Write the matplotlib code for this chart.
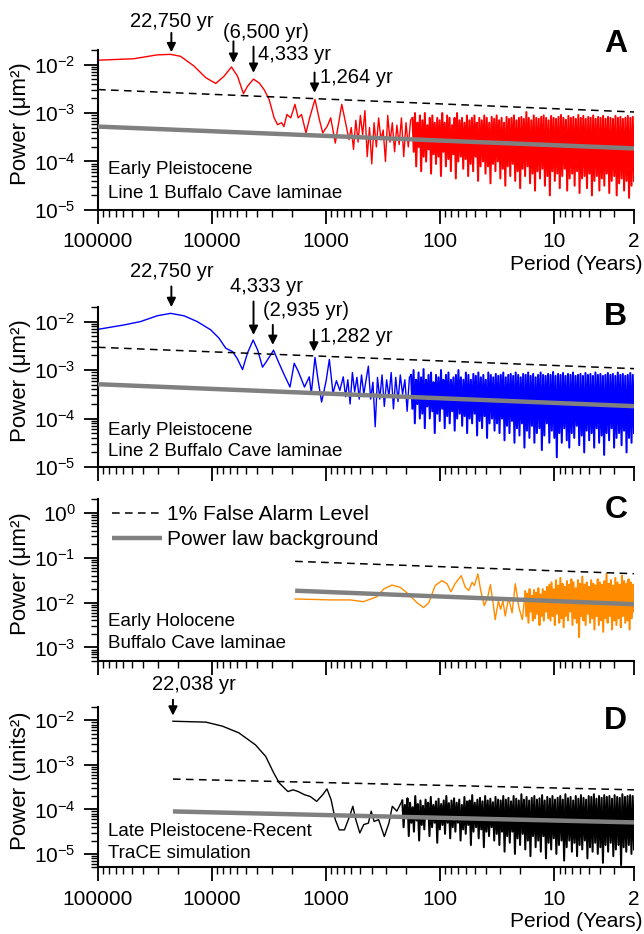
import numpy as np
import matplotlib
matplotlib.use('Agg')
import matplotlib.pyplot as plt
from matplotlib.ticker import LogLocator, NullFormatter, FixedLocator, FixedFormatter

plt.rcParams['font.family'] = ['Liberation Sans', 'DejaVu Sans']
plt.rcParams['mathtext.default'] = 'regular'
plt.rcParams['axes.unicode_minus'] = False

# x axis ticks (period, years)
x_ticks = [100000, 10000, 1000, 100, 10, 2]
x_tick_labels = ['100000', '10000', '1000', '100', '10', '2']

# ---------------- panel A (red) : log10 values ----------------
a_log_period = [5.0, 4.687, 4.481, 4.364, 4.276, 4.159, 4.056, 3.968, 3.895, 3.830,
                3.777, 3.725, 3.690, 3.637, 3.587, 3.543, 3.500, 3.456, 3.426, 3.390,
                3.370, 3.344, 3.310, 3.274, 3.245, 3.216, 3.177, 3.140, 3.098, 3.060,
                3.030, 2.990, 2.960, 2.920, 2.863, 2.830, 2.800,
                2.78, 2.76, 2.74, 2.72, 2.70, 2.68, 2.66, 2.64, 2.62, 2.60,
                2.58, 2.56, 2.54, 2.52, 2.50, 2.48, 2.46, 2.44, 2.42, 2.40,
                2.38, 2.36, 2.34, 2.32, 2.30, 2.28, 2.26]
a_log_power = [-1.91, -1.88, -1.80, -1.79, -1.83, -2.03, -2.27, -2.39, -2.24, -2.05,
               -2.24, -2.60, -2.45, -2.30, -2.38, -2.52, -2.72, -3.10, -3.24, -3.20,
               -3.28, -3.03, -3.10, -2.82, -3.10, -3.03, -3.41, -3.06, -2.72, -3.13,
               -3.41, -3.27, -3.10, -3.62, -2.82, -3.20, -3.55,
               -3.30, -3.75, -3.15, -3.60, -3.05, -3.45, -2.95, -3.90, -3.30, -4.05,
               -3.20, -3.70, -3.10, -3.55, -3.35, -4.00, -3.05, -3.60, -3.20, -3.80,
               -3.25, -3.65, -3.10, -3.90, -3.20, -3.70, -3.15]
# dense tail (period 175 -> 2): upper and lower swings of the spectrum
a_tail_range = [175, 2]
a_hi = [-3.1, -3.0, -3.2, -3.05, -3.15, -3.0, -3.25, -3.1, -3.05, -3.2,
        -3.1, -3.15, -3.0, -3.2, -3.05, -3.1, -3.25, -3.1, -3.0, -3.15,
        -3.1, -3.2, -3.05, -3.15, -3.1, -3.05, -3.2, -3.1, -3.15, -3.05,
        -3.1, -3.2, -3.08, -3.12, -3.05, -3.15, -3.1, -3.2, -3.08, -3.12,
        -3.1, -3.05, -3.15, -3.1, -3.08, -3.12, -2.98, -3.1, -3.15, -3.05,
        -3.1, -3.12, -3.08, -3.05, -3.1, -3.15, -3.06, -3.1, -3.12, -3.08,
        -3.04, -3.1, -3.14, -3.06, -3.1, -3.08, -3.12, -3.04, -3.1, -3.06,
        -3.12, -3.08, -3.1, -3.05, -3.12, -3.08, -3.1, -3.06, -3.12, -3.08,
        -3.1, -3.12, -3.06, -3.1, -3.08, -3.12, -3.1, -3.06, -3.1, -3.08]
a_lo = [-3.8, -4.1, -3.7, -4.2, -3.9, -4.0, -3.75, -4.25, -3.85, -4.05,
        -3.9, -4.3, -3.8, -4.1, -3.95, -4.2, -3.85, -4.35, -4.0, -3.9,
        -4.15, -3.95, -4.3, -4.05, -4.2, -3.9, -4.4, -4.1, -4.0, -4.25,
        -4.1, -4.45, -4.05, -4.2, -4.0, -4.35, -4.15, -4.5, -4.1, -4.3,
        -4.05, -4.4, -4.2, -4.55, -4.15, -4.3, -4.1, -4.45, -4.25, -4.6,
        -4.2, -4.35, -4.15, -4.5, -4.3, -4.7, -4.2, -4.4, -4.25, -4.55,
        -4.3, -4.15, -4.6, -4.35, -4.25, -4.5, -4.2, -4.65, -4.35, -4.3,
        -4.55, -4.25, -4.7, -4.4, -4.3, -4.6, -4.35, -4.5, -4.25, -4.65,
        -4.4, -4.3, -4.7, -4.45, -4.35, -4.6, -4.4, -4.75, -4.5, -4.4]
a_line_period = [100000, 2]
a_fal = [3.05e-3, 1.05e-3]
a_bg = [5.25e-4, 1.86e-4]

# ---------------- panel B (blue) ----------------
b_log_period = [5.0, 4.775, 4.628, 4.481, 4.364, 4.247, 4.130, 4.012, 3.940, 3.880,
                3.820, 3.780, 3.733, 3.690, 3.640, 3.600, 3.558, 3.514, 3.461, 3.426,
                3.373, 3.317, 3.280, 3.250, 3.220, 3.190, 3.148, 3.130, 3.098, 3.070,
                3.040, 3.000, 2.972, 2.940, 2.910, 2.880, 2.850,
                2.83, 2.81, 2.79, 2.77, 2.75, 2.73, 2.71, 2.69, 2.67, 2.65,
                2.63, 2.61, 2.59, 2.57, 2.55, 2.53, 2.51, 2.49, 2.47, 2.45,
                2.43, 2.41, 2.39, 2.37, 2.35, 2.33, 2.31, 2.29, 2.27]
b_log_power = [-2.16, -2.07, -2.00, -1.88, -1.83, -1.88, -2.00, -2.17, -2.34, -2.55,
               -2.62, -2.76, -2.99, -2.65, -2.38, -2.59, -2.94, -2.79, -2.59, -2.79,
               -3.07, -3.35, -2.86, -3.00, -3.17, -3.35, -3.14, -3.48, -2.74, -3.22,
               -3.66, -3.22, -2.78, -3.48, -3.22, -3.42, -3.14,
               -3.55, -3.20, -3.70, -3.05, -3.45, -3.15, -3.60, -3.10, -3.50, -3.20,
               -2.92, -3.60, -3.25, -4.17, -3.15, -3.60, -3.10, -3.75, -3.20, -3.55,
               -3.05, -3.80, -3.15, -3.65, -3.10, -3.50, -3.20, -3.85, -3.15]
b_tail_range = [180, 2]
b_hi = [-3.1, -3.0, -3.2, -3.05, -3.15, -2.98, -3.2, -3.1, -3.05, -3.25,
        -3.1, -3.15, -3.0, -3.2, -3.1, -3.05, -3.2, -3.15, -3.1, -3.0,
        -3.15, -3.2, -3.05, -3.1, -3.2, -3.08, -3.12, -3.05, -3.15, -3.1,
        -3.2, -3.05, -3.1, -3.15, -3.08, -3.12, -3.1, -3.05, -3.15, -3.1,
        -3.08, -3.12, -3.05, -3.1, -3.15, -3.08, -3.1, -3.05, -3.12, -3.08,
        -3.15, -3.1, -3.05, -3.1, -3.12, -3.08, -3.1, -3.04, -3.12, -3.08,
        -3.1, -3.06, -3.12, -3.08, -3.1, -3.05, -3.12, -3.1, -3.08, -3.12,
        -3.06, -3.1, -3.08, -3.12, -3.05, -3.1, -3.08, -3.12, -3.1, -3.06,
        -3.1, -3.08, -3.12, -3.05, -3.1, -3.08, -3.12, -3.1, -3.06, -3.1]
b_lo = [-3.8, -4.1, -3.7, -4.0, -3.9, -4.2, -3.75, -4.0, -3.85, -4.3,
        -3.9, -4.05, -3.8, -4.2, -3.95, -4.1, -3.85, -4.25, -4.0, -3.9,
        -4.15, -3.95, -4.3, -4.0, -4.1, -3.9, -4.35, -4.05, -4.2, -3.95,
        -4.4, -4.1, -4.0, -4.25, -4.1, -4.3, -4.0, -4.45, -4.15, -4.3,
        -4.05, -4.5, -4.2, -4.35, -4.1, -4.6, -4.25, -4.4, -4.15, -4.5,
        -4.3, -4.2, -4.65, -4.35, -4.1, -4.5, -4.25, -4.4, -4.8, -4.3,
        -4.5, -4.2, -4.45, -4.6, -4.3, -4.4, -4.15, -4.55, -4.35, -4.7,
        -4.25, -4.45, -4.3, -4.6, -4.2, -4.5, -4.35, -4.75, -4.3, -4.45,
        -4.2, -4.6, -4.4, -4.3, -4.55, -4.25, -4.7, -4.4, -4.5, -4.3]
b_line_period = [100000, 2]
b_fal = [2.95e-3, 1.07e-3]
b_bg = [5.1e-4, 1.8e-4]

# ---------------- panel C (orange) ----------------
c_log_period = [3.272, 3.10, 2.965, 2.79, 2.673, 2.61, 2.555, 2.497, 2.424, 2.35,
                2.278, 2.205, 2.146, 2.10, 2.044, 1.985, 1.94, 1.906, 1.87, 1.816,
                1.78, 1.75, 1.72, 1.70, 1.67, 1.645, 1.614, 1.585, 1.56, 1.535,
                1.518, 1.49, 1.47, 1.45, 1.43, 1.40, 1.37, 1.342, 1.31, 1.28]
c_log_power = [-1.92, -1.93, -1.94, -1.94, -1.98, -1.92, -1.87, -1.70, -1.61, -1.66,
               -1.81, -2.00, -2.11, -2.00, -1.62, -1.51, -1.58, -1.76, -1.58, -1.40,
               -1.66, -1.73, -1.55, -1.62, -1.36, -1.73, -2.07, -1.89, -1.60, -2.04,
               -2.38, -1.96, -2.15, -1.96, -2.30, -1.89, -2.23, -1.58, -2.11, -2.38]
c_tail_range = [18, 2]
c_hi = [-1.75, -1.8, -1.7, -1.85, -1.72, -1.78, -1.68, -1.82, -1.7, -1.75,
        -1.65, -1.6, -1.55, -1.7, -1.5, -1.62, -1.45, -1.58, -1.65, -1.52,
        -1.6, -1.48, -1.55, -1.68, -1.5, -1.58, -1.42, -1.6, -1.55, -1.65,
        -1.5, -1.58, -1.62, -1.48, -1.55, -1.6, -1.52, -1.36, -1.58, -1.5,
        -1.62, -1.45, -1.55, -1.6, -1.4, -1.52, -1.58, -1.48, -1.55, -1.6]
c_lo = [-2.3, -2.45, -2.2, -2.4, -2.35, -2.25, -2.5, -2.3, -2.4, -2.2,
        -2.35, -2.4, -2.3, -2.5, -2.25, -2.45, -2.35, -2.55, -2.3, -2.4,
        -2.2, -2.5, -2.35, -2.45, -2.77, -2.3, -2.4, -2.5, -2.25, -2.45,
        -2.35, -2.6, -2.3, -2.5, -2.4, -2.65, -2.35, -2.45, -2.3, -2.6,
        -2.4, -2.5, -2.35, -2.55, -2.3, -2.45, -2.4, -2.6, -2.35, -2.2]
c_line_period = [1870, 2]
c_fal = [0.083, 0.044]
c_bg = [0.0184, 0.0092]

# ---------------- panel D (black) ----------------
d_log_period = [4.343, 4.054, 3.91, 3.766, 3.62, 3.53, 3.46, 3.41, 3.335, 3.29,
                3.245, 3.19, 3.14, 3.083, 3.03, 2.993, 2.957, 2.92, 2.885, 2.84,
                2.795, 2.766, 2.74, 2.705, 2.67, 2.63, 2.605, 2.58, 2.54, 2.49,
                2.45, 2.42, 2.38, 2.345]
d_log_power = [-2.02, -2.04, -2.13, -2.28, -2.55, -2.81, -3.18, -3.41, -3.60, -3.56,
               -3.60, -3.67, -3.71, -3.82, -3.67, -3.54, -3.78, -4.23, -4.46, -4.46,
               -4.16, -3.93, -4.23, -4.53, -4.34, -4.31, -4.04, -4.27, -4.23, -4.61,
               -4.31, -3.93, -4.04, -3.86]
d_tail_range = [215, 2]
d_hi = [-3.8, -3.9, -3.75, -3.85, -3.95, -3.7, -3.88, -3.8, -3.92, -3.78,
        -3.85, -3.72, -3.9, -3.82, -3.76, -3.88, -3.8, -3.7, -3.86, -3.8,
        -3.75, -3.85, -3.78, -3.9, -3.72, -3.82, -3.8, -3.68, -3.85, -3.78,
        -3.74, -3.82, -3.7, -3.8, -3.76, -3.84, -3.72, -3.78, -3.8, -3.7,
        -3.78, -3.74, -3.82, -3.7, -3.76, -3.8, -3.66, -3.78, -3.72, -3.8,
        -3.74, -3.7, -3.78, -3.75, -3.68, -3.8, -3.72, -3.76, -3.7, -3.78,
        -3.74, -3.7, -3.78, -3.66, -3.75, -3.72, -3.8, -3.7, -3.76, -3.68,
        -3.74, -3.78, -3.7, -3.72, -3.66, -3.76, -3.7, -3.74, -3.68, -3.72,
        -3.7, -3.76, -3.68, -3.72, -3.74, -3.66, -3.72, -3.7, -3.68, -3.7]
d_lo = [-4.4, -4.2, -4.6, -4.3, -4.5, -4.25, -4.7, -4.35, -4.45, -4.2,
        -4.6, -4.4, -4.3, -4.75, -4.45, -4.35, -4.55, -4.3, -4.65, -4.4,
        -4.5, -4.3, -4.7, -4.45, -4.55, -4.35, -4.8, -4.5, -4.4, -4.65,
        -4.45, -4.85, -4.5, -4.6, -4.4, -4.7, -4.55, -4.8, -4.5, -4.95,
        -4.6, -4.75, -4.5, -5.0, -4.65, -4.8, -4.55, -4.9, -4.7, -5.05,
        -4.6, -4.85, -4.7, -4.95, -4.6, -5.1, -4.75, -4.9, -4.65, -5.0,
        -4.8, -4.7, -5.15, -4.85, -4.7, -4.95, -4.75, -5.05, -4.8, -4.9,
        -4.7, -5.1, -4.85, -4.95, -4.75, -5.0, -4.85, -5.2, -4.8, -4.95,
        -4.75, -5.05, -4.9, -4.8, -5.25, -4.85, -4.95, -4.8, -5.0, -4.9]
d_line_period = [22038, 2]
d_fal = [4.8e-4, 2.75e-4]
d_bg = [9.0e-5, 5.1e-5]


def spectrum(log_period, log_power, hi, lo, tail_range):
    # explicit part, and the dense tail with hi/lo swings interleaved
    per = 10 ** np.array(log_period)
    pw = 10 ** np.array(log_power)
    tail_p = np.geomspace(tail_range[0], tail_range[1], 2 * len(hi))
    tail_pw = 10 ** np.column_stack([hi, lo]).ravel()
    return per, pw, tail_p, tail_pw


def style_axes(ax, ylim, show_xlabels):
    ax.set_xscale('log')
    ax.set_yscale('log')
    ax.set_xlim(1e5, 2)
    ax.set_ylim(*ylim)
    for s in ['top', 'right']:
        ax.spines[s].set_visible(False)
    for s in ['left', 'bottom']:
        ax.spines[s].set_linewidth(1.5)
    ax.xaxis.set_major_locator(FixedLocator(x_ticks))
    if show_xlabels:
        ax.xaxis.set_major_formatter(FixedFormatter(x_tick_labels))
    else:
        ax.xaxis.set_major_formatter(NullFormatter())
    ax.xaxis.set_minor_locator(LogLocator(base=10, subs=np.arange(2, 10), numticks=30))
    ax.xaxis.set_minor_formatter(NullFormatter())
    ax.yaxis.set_major_locator(LogLocator(base=10, numticks=10))
    ax.yaxis.set_minor_locator(LogLocator(base=10, subs=np.arange(2, 10), numticks=30))
    ax.yaxis.set_minor_formatter(NullFormatter())
    ax.tick_params(which='major', direction='out', length=10, width=1.3, labelsize=15, pad=6)
    ax.tick_params(which='minor', direction='out', length=5, width=1.0)


def mark(ax, period, tip, tail):
    # arrow pointing down at a spectral peak (log10 power values)
    ax.annotate('', xy=(period, 10 ** tip), xytext=(period, 10 ** tail),
                arrowprops=dict(arrowstyle='-|>', color='black', lw=1.4, mutation_scale=13,
                                shrinkA=0, shrinkB=0),
                annotation_clip=False)


fig = plt.figure(figsize=(6.44, 9.34), dpi=100)
L, W = 0.1522, 0.8323
axA = fig.add_axes([L, 0.7752, W, 0.1713])
axB = fig.add_axes([L, 0.5000, W, 0.1713])
axC = fig.add_axes([L, 0.2923, W, 0.1731])
axD = fig.add_axes([L, 0.0714, W, 0.1717])

panels = [
    (axA, spectrum(a_log_period, a_log_power, a_hi, a_lo, a_tail_range), '#ff0000',
     a_line_period, a_fal, a_bg, (1e-5, 0.02), True),
    (axB, spectrum(b_log_period, b_log_power, b_hi, b_lo, b_tail_range), '#0000ff',
     b_line_period, b_fal, b_bg, (1e-5, 0.02), False),
    (axC, spectrum(c_log_period, c_log_power, c_hi, c_lo, c_tail_range), '#ff8c00',
     c_line_period, c_fal, c_bg, (5e-4, 2), False),
    (axD, spectrum(d_log_period, d_log_power, d_hi, d_lo, d_tail_range), '#000000',
     d_line_period, d_fal, d_bg, (5e-6, 0.02), True),
]

for ax, (per, pw, tp, tpw), col, lp, fal, bg, ylim, showx in panels:
    ax.plot(np.append(per, tp[0]), np.append(pw, tpw[0]), color=col, lw=1.0, zorder=2)
    ax.plot(tp, tpw, color=col, lw=1.45, zorder=2)
    ax.plot(lp, fal, color='black', lw=1.1, ls=(0, (5, 3.5)), zorder=3,
            label='1% False Alarm Level')
    ax.plot(lp, bg, color='#808080', lw=3.2, solid_capstyle='butt', zorder=4,
            label='Power law background')
    style_axes(ax, ylim, showx)
    if showx:
        ax.text(1.015, -0.34, 'Period (Years)', transform=ax.transAxes,
                ha='right', va='center', fontsize=15)

# y labels
for ax, lab in [(axA, 'Power (μm²)'), (axB, 'Power (μm²)'),
                (axC, 'Power (μm²)'), (axD, 'Power (units²)')]:
    ax.text(-0.145, 0.54, lab, transform=ax.transAxes, rotation=90,
            ha='center', va='center', fontsize=16)

# panel letters
for ax, letter, yy in [(axA, 'A', 1.035), (axB, 'B', 0.935), (axC, 'C', 0.935), (axD, 'D', 0.91)]:
    ax.text(0.966, yy, letter, transform=ax.transAxes, ha='center', va='center',
            fontsize=23, fontweight='bold')

# sample captions
for ax, l1, l2, y1, y2 in [
        (axA, 'Early Pleistocene', 'Line 1 Buffalo Cave laminae', 0.25, 0.104),
        (axB, 'Early Pleistocene', 'Line 2 Buffalo Cave laminae', 0.231, 0.096),
        (axC, 'Early Holocene', 'Buffalo Cave laminae', 0.243, 0.109),
        (axD, 'Late Pleistocene-Recent', 'TraCE simulation', 0.222, 0.087)]:
    ax.text(0.018, y1, l1, transform=ax.transAxes, ha='left', va='center', fontsize=13.5)
    ax.text(0.018, y2, l2, transform=ax.transAxes, ha='left', va='center', fontsize=13.5)

# peak annotations (period, arrow tip, arrow tail in log10 power)
ann_fs = 14.5
mark(axA, 22750, -1.746, -1.346)
axA.text(22750, 10 ** -1.107, '22,750 yr', ha='center', va='center', fontsize=ann_fs)
mark(axA, 6500, -1.965, -1.52)
axA.text(8070, 10 ** -1.33, '(6,500 yr)', ha='left', va='center', fontsize=ann_fs)
mark(axA, 4333, -2.171, -1.63)
axA.text(3981, 10 ** -1.794, '4,333 yr', ha='left', va='center', fontsize=ann_fs)
mark(axA, 1264, -2.583, -2.165)
axA.text(1122, 10 ** -2.274, '1,264 yr', ha='left', va='center', fontsize=ann_fs)

mark(axB, 22750, -1.70, -1.275)
axB.text(22750, 10 ** -0.965, '22,750 yr', ha='center', va='center', fontsize=ann_fs)
mark(axB, 4333, -2.275, -1.586)
axB.text(3311, 10 ** -1.275, '4,333 yr', ha='center', va='center', fontsize=ann_fs)
mark(axB, 2935, -2.482, -2.068)
axB.text(1496, 10 ** -1.78, '(2,935 yr)', ha='center', va='center', fontsize=ann_fs)
mark(axB, 1282, -2.62, -2.17)
axB.text(1122, 10 ** -2.31, '1,282 yr', ha='left', va='center', fontsize=ann_fs)

mark(axD, 22038, -1.894, -1.535)
axD.text(14450, 10 ** -1.198, '22,038 yr', ha='center', va='center', fontsize=ann_fs)

# legend in panel C
axC.legend(loc='upper left', bbox_to_anchor=(0.026, 0.965), frameon=False, fontsize=15,
           handlelength=2.4, handletextpad=0.25, labelspacing=0.3,
           borderpad=0, borderaxespad=0)

fig.savefig('out.png', dpi=100)
